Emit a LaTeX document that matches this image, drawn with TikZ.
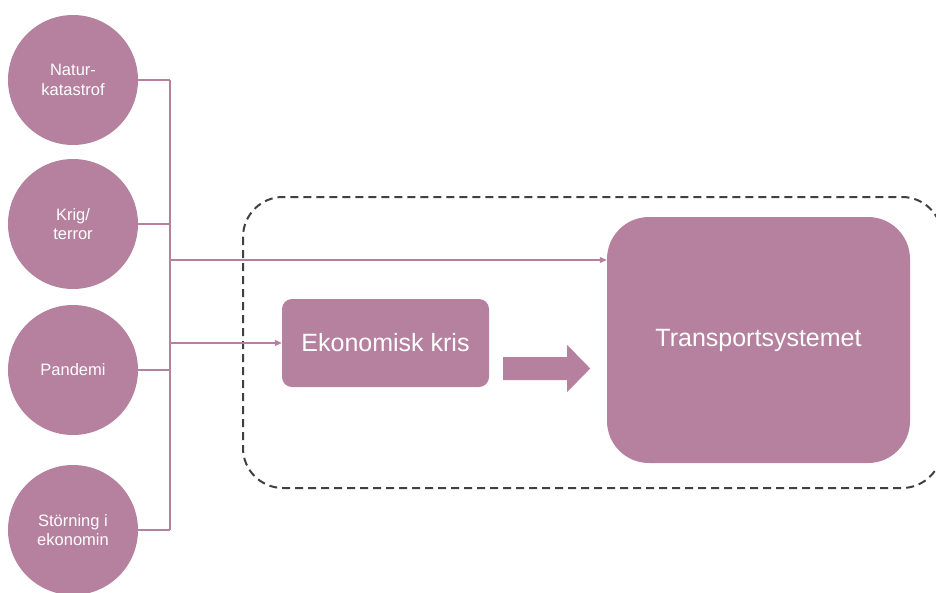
\documentclass[tikz,border=0pt]{standalone}
\usepackage{fontspec}
\setmainfont{Liberation Sans}
\usetikzlibrary{arrows.meta}
\definecolor{mauve}{HTML}{B5819F}
\definecolor{frame}{HTML}{404040}
\tikzset{
  cause/.style={circle, fill=mauve, minimum size=130pt, inner sep=0pt,
    text=white, align=center, font=\fontsize{16.5}{19.5}\selectfont},
  block/.style={fill=mauve, text=white, font=\fontsize{25}{30}\selectfont, inner sep=0pt},
  conn/.style={draw=mauve, line width=1.1pt},
  connarrow/.style={conn, -{Triangle[length=7pt,width=6pt]}},
  scopebox/.style={draw=frame, line width=2pt, dash pattern=on 8pt off 5pt, rounded corners=40pt}
}
\begin{document}
\begin{tikzpicture}[x=1pt,y=-1pt]
\useasboundingbox (0,0) rectangle (936,592);

% dashed boundary of the system
\draw[scopebox] (243,197) rectangle (942,488);

% causes
\node[cause] (nat) at (73,80)  {Natur-\\katastrof};
\node[cause] (krig) at (73,224) {Krig/\\terror};
\node[cause] (pan) at (73,370) {Pandemi};
\node[cause] (sto) at (73,530) {Störning i\\ekonomin};

% main blocks
\node[block, rounded corners=10pt, minimum width=207pt, minimum height=88pt] (eko) at (385.5,343) {Ekonomisk kris};
\node[block, rounded corners=42pt, minimum width=303pt, minimum height=246pt] (trans) at (758.5,340) {Transportsystemet};

% collecting bus
\coordinate (bus) at (170,0);
\coordinate (ja) at (170,260);
\coordinate (jb) at (170,343);
\draw[conn] (nat.east) -- (nat.east -| bus);
\draw[conn] (krig.east) -- (krig.east -| bus);
\draw[conn] (pan.east) -- (pan.east -| bus);
\draw[conn] (sto.east) -- (sto.east -| bus);
\draw[conn] (nat.east -| bus) -- (sto.east -| bus);
\draw[connarrow] (ja) -- (ja -| trans.west);
\draw[connarrow] (jb) -- (jb -| eko.west);

% block arrow from crisis to transport system
\fill[mauve] ([xshift=14pt,yshift=-14pt]eko.east) -- ++(64,0) -- ++(0,-12) -- ++(23,23.5)
  -- ++(-23,23.5) -- ++(0,-12) -- ++(-64,0) -- cycle;
\end{tikzpicture}
\end{document}
